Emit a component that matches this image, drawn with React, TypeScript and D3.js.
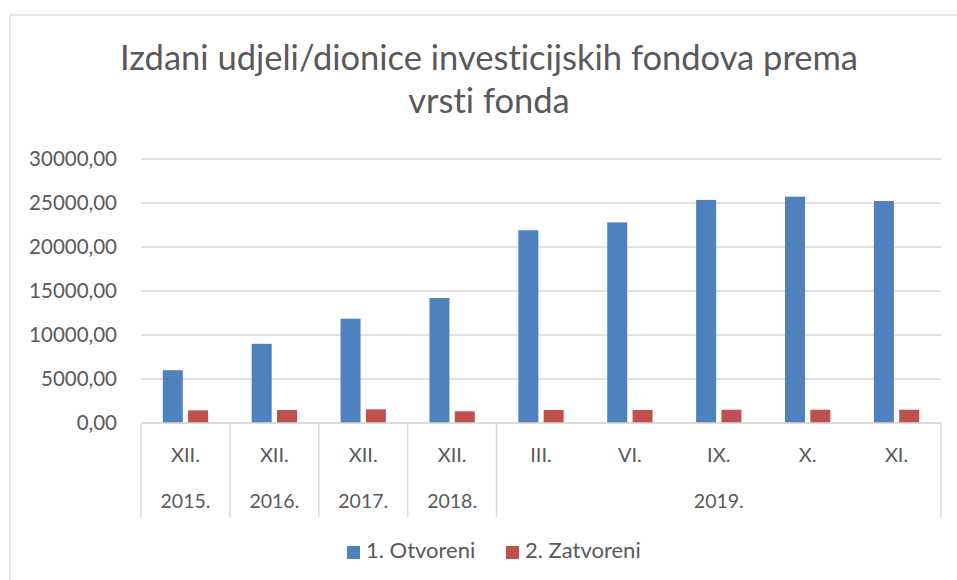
import React from "react";
import * as d3 from "d3";

const months = ["XII.", "XII.", "XII.", "XII.", "III.", "VI.", "IX.", "X.", "XI."];
const years = ["2015.", "2016.", "2017.", "2018.", "2019.", "2019.", "2019.", "2019.", "2019."];
const seriesNames = ["1. Otvoreni", "2. Zatvoreni"];
const otvoreni = [6000, 9000, 11850, 14200, 21900, 22800, 25350, 25720, 25230];
const zatvoreni = [1440, 1480, 1550, 1330, 1480, 1480, 1510, 1510, 1510];
const yTicks = [0, 5000, 10000, 15000, 20000, 25000, 30000];
const titleLines = ["Izdani udjeli/dionice investicijskih fondova prema", "vrsti fonda"];

const colors = ["#4f81bd", "#c0504d"];
const FONT = "Lato, 'Open Sans', sans-serif";
const TXT = "#595959";
const GRID = "#d9d9d9";

export default function App() {
  const W = 957, H = 580;
  const left = 141, right = 941, top = 159, bottom = 423;
  const idx = months.map((_, i) => i);
  const x0 = d3.scaleBand<number>().domain(idx).range([left, right]).paddingInner(0).paddingOuter(0);
  const x1 = d3.scaleBand<number>().domain([0, 1]).range([0, x0.bandwidth()]).paddingInner(0.21).paddingOuter(0.86);
  const y = d3.scaleLinear().domain([0, 30000]).range([bottom, top]);
  const fmt = (v: number) => d3.format(".2f")(v).replace(".", ",");
  const series = [otvoreni, zatvoreni];

  const groups: { label: string; start: number; end: number }[] = [];
  years.forEach((yr, i) => {
    const g = groups[groups.length - 1];
    if (g && g.label === yr) g.end = i;
    else groups.push({ label: yr, start: i, end: i });
  });
  const sepBottom = 517;

  return (
    <svg width={W} height={H} style={{ position: "absolute", left: 0, top: 0, fontVariantLigatures: "none" }} fontFamily={FONT}>
      <rect x={0} y={0} width={W} height={H} fill="#fff" />
      <rect x={10} y={15} width={W + 20} height={H + 20} fill="#fff" stroke={GRID} strokeWidth={1.3} />
      {titleLines.map((t, i) => (
        <text key={i} x={489} y={70 + i * 43} textAnchor="middle" fontSize={34.5} fill={TXT}>{t}</text>
      ))}
      {yTicks.map((t) => (
        <g key={t}>
          <line x1={left} x2={right} y1={y(t)} y2={y(t)} stroke={GRID} strokeWidth={1.5} />
          <text x={117} y={y(t)} dy="0.35em" textAnchor="end" fontSize={20.5} fill={TXT}>{fmt(t)}</text>
        </g>
      ))}
      {series.map((vals, s) =>
        vals.map((v, i) => (
          <rect key={`${s}-${i}`} x={(x0(i) ?? 0) + (x1(s) ?? 0)} y={y(v)} width={x1.bandwidth()} height={y(0) - y(v)} fill={colors[s]} />
        ))
      )}
      {groups.map((g, k) => {
        const xs = x0(g.start) ?? 0;
        const xe = (x0(g.end) ?? 0) + x0.bandwidth();
        return (
          <g key={k}>
            <line x1={xs} x2={xs} y1={bottom} y2={sepBottom} stroke={GRID} strokeWidth={1.5} />
            {k === groups.length - 1 && <line x1={xe} x2={xe} y1={bottom} y2={sepBottom} stroke={GRID} strokeWidth={1.5} />}
            <text x={(xs + xe) / 2} y={508} textAnchor="middle" fontSize={19.5} fill={TXT}>{g.label}</text>
          </g>
        );
      })}
      {months.map((m, i) => (
        <text key={i} x={(x0(i) ?? 0) + x0.bandwidth() / 2} y={462} textAnchor="middle" fontSize={20} fill={TXT}>{m}</text>
      ))}
      <line x1={left} x2={right} y1={bottom} y2={bottom} stroke={GRID} strokeWidth={1.5} />
      {seriesNames.map((n, s) => {
        const lx = [347, 506][s];
        return (
          <g key={n}>
            <rect x={lx} y={546} width={13} height={13} fill={colors[s]} />
            <text x={lx + 19} y={558} fontSize={22} fill={TXT}>{n}</text>
          </g>
        );
      })}
    </svg>
  );
}
